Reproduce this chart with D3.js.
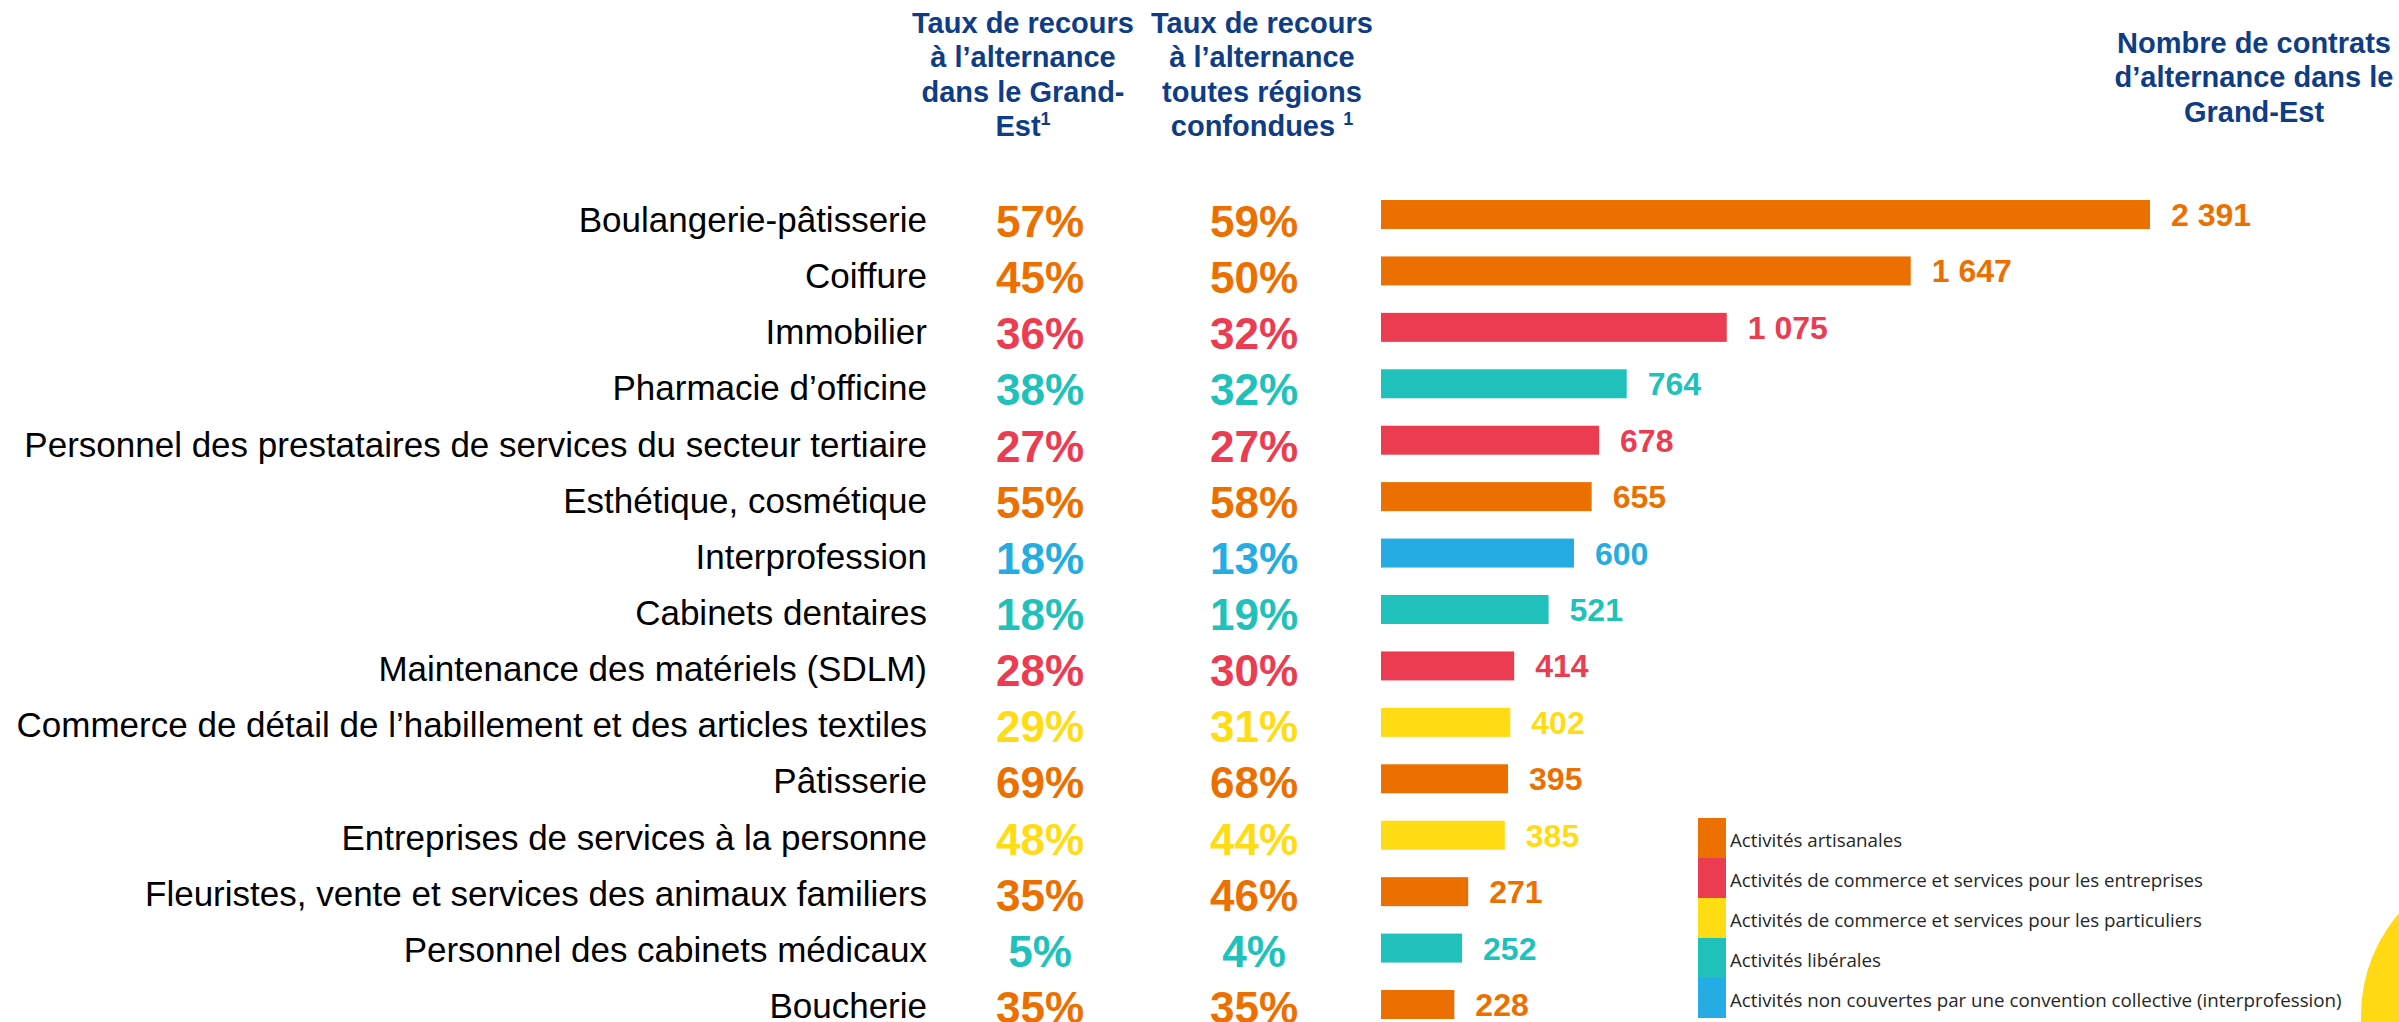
<!DOCTYPE html>
<html>
<head>
<meta charset="utf-8">
<script src="https://cdn.jsdelivr.net/npm/d3@7"></script>
<style>
  body { margin: 0; background: #fff; }
  svg { display: block; }
</style>
</head>
<body>
<svg id="chart"></svg>
<script>
// data
const categories = [
  "Boulangerie-pâtisserie",
  "Coiffure",
  "Immobilier",
  "Pharmacie d’officine",
  "Personnel des prestataires de services du secteur tertiaire",
  "Esthétique, cosmétique",
  "Interprofession",
  "Cabinets dentaires",
  "Maintenance des matériels (SDLM)",
  "Commerce de détail de l’habillement et des articles textiles",
  "Pâtisserie",
  "Entreprises de services à la personne",
  "Fleuristes, vente et services des animaux familiers",
  "Personnel des cabinets médicaux",
  "Boucherie"
];
const tauxGrandEst = [57, 45, 36, 38, 27, 55, 18, 18, 28, 29, 69, 48, 35, 5, 35];
const tauxToutes = [59, 50, 32, 32, 27, 58, 13, 19, 30, 31, 68, 44, 46, 4, 35];
const contrats = [2391, 1647, 1075, 764, 678, 655, 600, 521, 414, 402, 395, 385, 271, 252, 228];
const secteurIdx = [0, 0, 1, 3, 1, 0, 4, 3, 1, 2, 0, 2, 0, 3, 0];

const secteurs = [
  "Activités artisanales",
  "Activités de commerce et services pour les entreprises",
  "Activités de commerce et services pour les particuliers",
  "Activités libérales",
  "Activités non couvertes par une convention collective (interprofession)"
];
const secteurColors = ["#ec7000", "#ec3c52", "#ffdc14", "#21c1bb", "#25ace2"];

const headerCol1 = ["Taux de recours", "à l’alternance", "dans le Grand-", "Est"];
const headerCol2 = ["Taux de recours", "à l’alternance", "toutes régions", "confondues "];
const headerCol3 = ["Nombre de contrats", "d’alternance dans le", "Grand-Est"];

const W = 2399, H = 1022;
const svg = d3.select("#chart").attr("width", W).attr("height", H);

const rows = categories.map((c, i) => ({
  cat: c, ge: tauxGrandEst[i], all: tauxToutes[i], n: contrats[i], s: secteurIdx[i]
}));

const color = d3.scaleOrdinal().domain(d3.range(secteurs.length)).range(secteurColors);

// row centres: bars and the text columns are spaced a bit differently on the slide
const y = d3.scalePoint().domain(categories).range([214.5, 1004.5]);
const yTxt = d3.scalePoint().domain(categories).range([214.5, 1000.5]);
const barH = 29;
const barX0 = 1381;
const x = d3.scaleLinear().domain([0, d3.max(contrats)]).range([0, 769]);

const fmt = d3.formatLocale({ decimal: ",", thousands: " ", grouping: [3], currency: ["", "€"] }).format(",d");
const pct = d => d + "%";

const font = "'Liberation Sans', Arial, sans-serif";

// decorative yellow circle bottom-right
svg.append("circle")
  .attr("cx", 2516).attr("cy", 1015).attr("r", 155)
  .attr("fill", "#ffda14");

// category labels
svg.append("g").selectAll("text")
  .data(rows).join("text")
  .attr("x", 927)
  .attr("y", d => yTxt(d.cat) + 17.5)
  .attr("text-anchor", "end")
  .style("font-family", font)
  .style("font-size", "35px")
  .attr("fill", "#000")
  .text(d => d.cat);

// percent columns
[["ge", 1040], ["all", 1254]].forEach(([key, cx]) => {
  svg.append("g").selectAll("text")
    .data(rows).join("text")
    .attr("x", cx)
    .attr("y", d => yTxt(d.cat) + 22.5)
    .attr("text-anchor", "middle")
    .style("font-family", font)
    .style("font-size", "44px")
    .style("font-weight", "bold")
    .attr("fill", d => color(d.s))
    .text(d => pct(d[key]));
});

// bars
svg.append("g").selectAll("rect")
  .data(rows).join("rect")
  .attr("x", barX0)
  .attr("y", d => y(d.cat) - barH / 2)
  .attr("width", d => x(d.n))
  .attr("height", barH)
  .attr("fill", d => color(d.s));

// bar values
svg.append("g").selectAll("text")
  .data(rows).join("text")
  .attr("x", d => barX0 + x(d.n) + 21)
  .attr("y", d => y(d.cat) + 11.5)
  .style("font-family", font)
  .style("font-size", "32px")
  .style("font-weight", "bold")
  .attr("fill", d => color(d.s))
  .text(d => fmt(d.n));

// column headers
function header(lines, cx, y0, sup) {
  const t = svg.append("text")
    .attr("text-anchor", "middle")
    .style("font-family", font)
    .style("font-size", "29px")
    .style("font-weight", "bold")
    .attr("fill", "#0f3d85");
  lines.forEach((l, i) => {
    const ts = t.append("tspan").attr("x", cx).attr("y", y0 + i * 34.3).text(l);
    if (sup && i === lines.length - 1) {
      ts.append("tspan").attr("dy", -11).style("font-size", "18px").text("1");
    }
  });
}
header(headerCol1, 1023, 33, true);
header(headerCol2, 1262, 33, true);
header(headerCol3, 2254, 53, false);

// legend
const legY = d3.scaleBand().domain(d3.range(secteurs.length)).range([818, 1018]);
const leg = svg.append("g");
leg.selectAll("rect")
  .data(secteurs).join("rect")
  .attr("x", 1698)
  .attr("y", (d, i) => legY(i))
  .attr("width", 28)
  .attr("height", legY.bandwidth())
  .attr("fill", (d, i) => secteurColors[i]);
const legText = leg.selectAll("text")
  .data(secteurs).join("text")
  .attr("x", 1730)
  .attr("y", (d, i) => legY(i) + 29)
  .style("font-family", "'Open Sans', sans-serif")
  .style("font-size", "18px")
  .attr("fill", "#262626")
  .text(d => d);
// fit the longest legend line to the slide width
const longest = d3.max(legText.nodes(), n => n.getComputedTextLength());
legText.style("font-size", (18 * 612 / longest) + "px");
</script>
</body>
</html>
